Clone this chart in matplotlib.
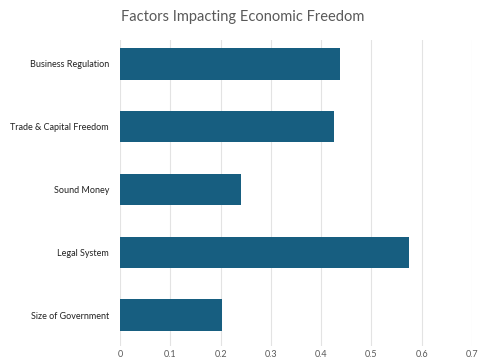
import matplotlib.pyplot as plt

# Factors, bottom to top as drawn
factors = ["Size of Government", "Legal System", "Sound Money",
           "Trade & Capital Freedom", "Business Regulation"]
values = [0.203, 0.575, 0.241, 0.426, 0.437]
xticks = [0, 0.1, 0.2, 0.3, 0.4, 0.5, 0.6, 0.7]
xlabels = ["0", "0.1", "0.2", "0.3", "0.4", "0.5", "0.6", "0.7"]

plt.rcParams['font.family'] = ['Lato', 'DejaVu Sans']

fig = plt.figure(figsize=(4.85, 3.6), dpi=100)
ax = fig.add_axes([0.2474, 0.039, 0.7258, 0.85])

ax.barh(range(len(factors)), values, height=0.5, color='#175E80', zorder=3)

ax.set_xlim(0, 0.7)
ax.set_ylim(-0.49, 4.38)
ax.set_xticks(xticks)
ax.set_xticklabels(xlabels, fontsize=6.5, color='#595959')
ax.set_yticks(range(len(factors)))
ax.set_yticklabels(factors, fontsize=6.5, color='#222222')
ax.tick_params(axis='x', length=0, pad=3)
ax.tick_params(axis='y', length=0, pad=8)
ax.grid(axis='x', color='#e3e3e3', linewidth=0.8, zorder=0)
for s in ax.spines.values():
    s.set_visible(False)

fig.text(0.5, 0.952, "Factors Impacting Economic Freedom", ha='center', va='center',
         fontsize=10.5, color='#595959')

fig.savefig("out.png", dpi=100)
